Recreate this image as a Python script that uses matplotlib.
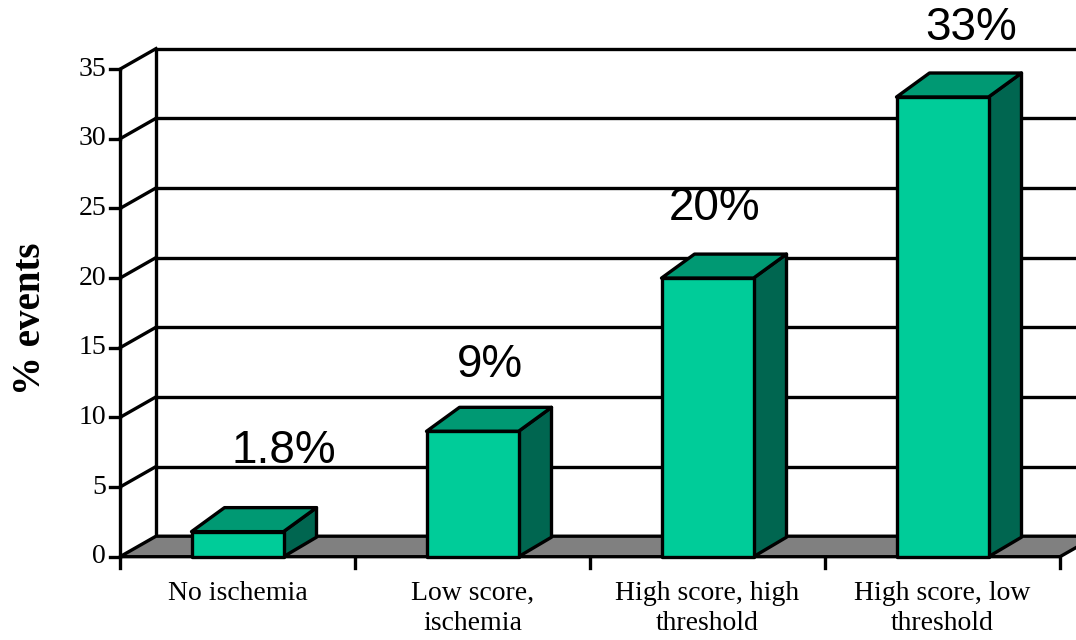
import matplotlib
matplotlib.use("Agg")
import matplotlib.pyplot as plt
from matplotlib.patches import Polygon

# event rates by stress test result
categories = ["No ischemia", "Low score,\nischemia",
              "High score, high\nthreshold", "High score, low\nthreshold"]
pct_events = [1.8, 9, 20, 33]
value_labels = ["1.8%", "9%", "20%", "33%"]
y_ticks = [0, 5, 10, 15, 20, 25, 30, 35]

# hand placed label nudges (category units, value units)
label_dx = [0.198, 0.074, 0.032, 0.123]
label_dy = [4.9, 3.9, 4.2, 4.1]

W, H = 1076, 640
PX_CAT = 235.0      # pixels per category
PX_VAL = 13.93      # pixels per percent
X0, Y0 = 120.0, 556.7   # front origin in pixels

FRONT = "#00cc99"
TOP = "#009973"
SIDE = "#006650"
FLOOR = "#808080"
LW = 2.4

fig = plt.figure(figsize=(W / 100, H / 100), dpi=100)
ax = fig.add_axes([0, 0, 1, 1])
ax.set_xlim(-X0 / PX_CAT, (W - X0) / PX_CAT)
ax.set_ylim(-(H - Y0) / PX_VAL, Y0 / PX_VAL)
ax.axis("off")

n = len(categories)
ymax = y_ticks[-1]

# depth of walls / floor and of the columns
wdx, wdy = 36 / PX_CAT, 20.5 / PX_VAL
bdx, bdy_top, bdy_bot = 33 / PX_CAT, 24 / PX_VAL, 19.5 / PX_VAL
bar_w = 92 / PX_CAT

# floor
ax.add_patch(Polygon([(0, 0), (n, 0), (n + wdx, wdy), (wdx, wdy)],
                     closed=True, facecolor=FLOOR, edgecolor="black",
                     lw=LW, joinstyle="round", zorder=2))

# side wall and back wall gridlines
ax.plot([0, 0], [0, ymax], color="black", lw=LW, zorder=3, solid_capstyle="butt")
ax.plot([wdx, wdx], [wdy, ymax + wdy], color="black", lw=LW, zorder=1.5,
        solid_capstyle="butt")
for v in y_ticks[1:]:
    ax.plot([0, wdx], [v, v + wdy], color="black", lw=LW, zorder=1.5)
    ax.plot([wdx, n + wdx + 1], [v + wdy, v + wdy], color="black", lw=LW, zorder=1)

# y ticks and labels
tick_len = 10 / PX_CAT
for v in y_ticks:
    ax.plot([-tick_len, 0], [v, v], color="black", lw=LW, zorder=3)
    ax.text(-tick_len - 4 / PX_CAT, v, str(v), ha="right", va="center",
            fontsize=20, family="Liberation Serif")

# x ticks and category labels
for i in range(n + 1):
    ax.plot([i, i], [0, -11 / PX_VAL], color="black", lw=LW, zorder=3)
for i, lab in enumerate(categories):
    ax.text(i + 0.5, -24 / PX_VAL, lab, ha="center", va="top", fontsize=20,
            family="Liberation Serif", linespacing=1.3)

# columns
for i, v in enumerate(pct_events):
    l = i + 0.5 - bar_w / 2
    r = i + 0.5 + bar_w / 2
    kw = dict(closed=True, edgecolor="black", lw=LW, joinstyle="round", zorder=4)
    ax.add_patch(Polygon([(r, 0), (r + bdx, bdy_bot), (r + bdx, v + bdy_top), (r, v)],
                         facecolor=SIDE, **kw))
    ax.add_patch(Polygon([(l, v), (r, v), (r + bdx, v + bdy_top), (l + bdx, v + bdy_top)],
                         facecolor=TOP, **kw))
    ax.add_patch(Polygon([(l, 0), (r, 0), (r, v), (l, v)], facecolor=FRONT, **kw))
    ax.text(i + 0.5 + label_dx[i], v + label_dy[i], value_labels[i],
            ha="center", va="baseline", fontsize=33, family="Liberation Sans", zorder=5)

ax.text(-90 / PX_CAT, 17.1, "% events", rotation=90, ha="center", va="center",
        fontsize=28, fontweight="bold", family="Liberation Serif")

fig.savefig("out.png", dpi=100)
